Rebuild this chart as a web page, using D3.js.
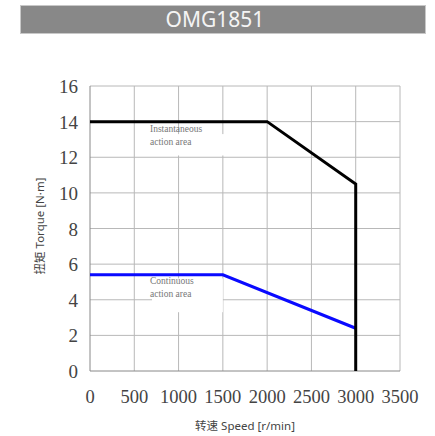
<!DOCTYPE html>
<html><head><meta charset="utf-8">
<script src="https://cdn.jsdelivr.net/npm/d3@7"></script>
</head><body style="margin:0">
<svg id="c" width="435" height="436"></svg>
<script>
const title = "OMG1851";
const xTicks = [0, 500, 1000, 1500, 2000, 2500, 3000, 3500];
const yTicks = [0, 2, 4, 6, 8, 10, 12, 14, 16];
const instSpeed = [0, 2000, 3000, 3000];
const instTorque = [14, 14, 10.5, 0];
const contSpeed = [0, 1500, 3000];
const contTorque = [5.4, 5.4, 2.4];
const xLabel = "转速 Speed [r/min]";
const yLabel = "扭矩 Torque [N·m]";
const notes = [
  {lines: ["Instantaneous", "action area"], x: 700, y: 13.4, box: [650, 1520, 13.3, 12.1]},
  {lines: ["Continuous", "action area"], x: 700, y: 4.9, box: [700, 1500, 5.2, 3.3]}
];
const SERIF = "'Liberation Serif'";
const SANS = "'Noto Sans', 'Noto Sans CJK SC', sans-serif";

const svg = d3.select("#c");
const x = d3.scaleLinear().domain([0, 3500]).range([90, 400]);
const y = d3.scaleLinear().domain([0, 16]).range([371, 86]);

// title bar
svg.append("rect").attr("x", 20.5).attr("y", 5.5).attr("width", 405).attr("height", 28)
  .attr("fill", "#888").attr("stroke", "#c8c8c8").attr("stroke-width", 1);
svg.append("text").attr("x", 215).attr("y", 27).attr("text-anchor", "middle")
  .style("font-family", "'Noto Sans'").attr("font-size", 21).attr("fill", "#f4f4f4").text(title);

// grid
const g = svg.append("g");
g.selectAll(".vg").data(xTicks.slice(1)).join("line")
  .attr("x1", d => x(d)).attr("x2", d => x(d)).attr("y1", y(16)).attr("y2", y(0))
  .attr("stroke", "#b8b8b8").attr("stroke-width", 1);
g.selectAll(".hg").data(yTicks.slice(1)).join("line")
  .attr("x1", x(0)).attr("x2", x(3500)).attr("y1", d => y(d)).attr("y2", d => y(d))
  .attr("stroke", "#b8b8b8").attr("stroke-width", 1);
g.append("line").attr("x1", x(0)).attr("x2", x(0)).attr("y1", y(16)).attr("y2", y(0)).attr("stroke", "#888");
g.append("line").attr("x1", x(0)).attr("x2", x(3500)).attr("y1", y(0)).attr("y2", y(0)).attr("stroke", "#888");

// annotation boxes
notes.forEach(n => {
  svg.append("rect").attr("x", x(n.box[0])).attr("y", y(n.box[2]))
    .attr("width", x(n.box[1]) - x(n.box[0])).attr("height", y(n.box[3]) - y(n.box[2]))
    .attr("fill", "#fff");
});

// tick labels
yTicks.forEach(d => {
  svg.append("text").attr("x", 78).attr("y", y(d) + 7).attr("text-anchor", "end")
    .style("font-family", SERIF).attr("font-size", 19).attr("fill", "#444").text(String(d));
});
xTicks.forEach(d => {
  svg.append("text").attr("x", x(d)).attr("y", 403).attr("text-anchor", "middle")
    .style("font-family", SERIF).attr("font-size", 18.5).attr("fill", "#444").text(String(d));
});

// curves
const line = d3.line().x(d => x(d[0])).y(d => y(d[1]));
svg.append("path").datum(contSpeed.map((s, i) => [s, contTorque[i]])).attr("d", line)
  .attr("fill", "none").attr("stroke", "#0a0aff").attr("stroke-width", 3);
svg.append("path").datum(instSpeed.map((s, i) => [s, instTorque[i]])).attr("d", line)
  .attr("fill", "none").attr("stroke", "#000").attr("stroke-width", 3);

// notes text
notes.forEach(n => {
  n.lines.forEach((t, i) => {
    svg.append("text").attr("x", x(n.x) - 2).attr("y", y(n.y) + i * 13)
      .style("font-family", SERIF).attr("font-size", 9.5).attr("fill", "#777").text(t);
  });
});

// axis titles
svg.append("text").attr("x", 245).attr("y", 430).attr("text-anchor", "middle")
  .style("font-family", SANS).attr("font-size", 11.5).attr("fill", "#444").text(xLabel);
svg.append("text").attr("transform", "translate(44,226) rotate(-90)").attr("text-anchor", "middle")
  .style("font-family", SANS).attr("font-size", 11.5).attr("fill", "#444").text(yLabel);
</script>
</body></html>
